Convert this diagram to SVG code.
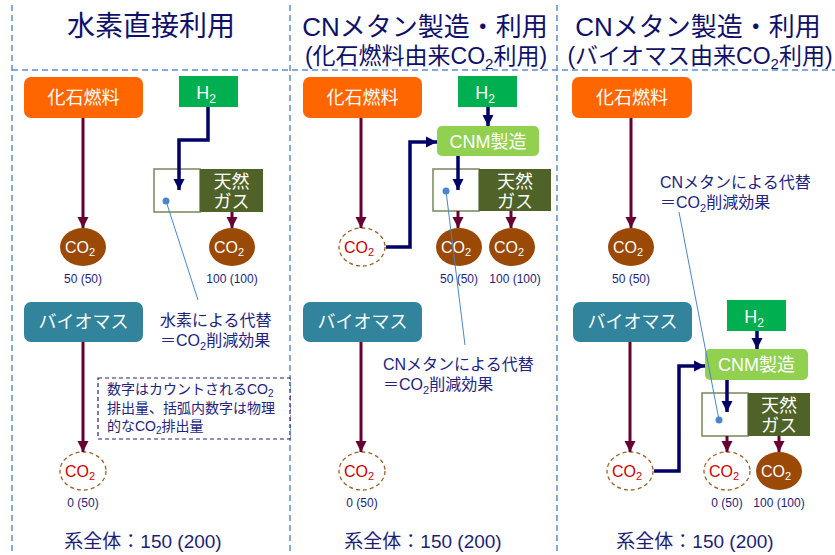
<svg xmlns="http://www.w3.org/2000/svg" width="835" height="555" viewBox="0 0 835 555">
<defs>
<style>
text{font-family:"Liberation Sans","Noto Sans CJK JP",sans-serif}
.title{fill:#10106a;font-size:26px;text-anchor:middle}
.title2{fill:#10106a;font-size:23px;text-anchor:middle}
.bt{fill:#fff;font-size:18px;text-anchor:middle}
.co{fill:#fff;font-size:16px;text-anchor:middle}
.cor{fill:#d00000;font-size:16px;text-anchor:middle}
.val{fill:#1e1e78;font-size:12px;text-anchor:middle}
.lab{fill:#23237e;font-size:16px}
.note{fill:#23237e;font-size:14px}
.tot{fill:#1e1e78;font-size:19px;text-anchor:middle}
.sep{stroke:#5e8fcc;stroke-width:1.5;stroke-dasharray:6 4;fill:none}
.fossil{fill:#ff6600}
.bio{fill:#31849b}
.h2{fill:#00b050}
.cnm{fill:#92d050}
.ng{fill:#4f6228}
.slot{fill:#fff;stroke:#77865a;stroke-width:1.5}
.co2{fill:#9a4906}
.co2d{fill:#fff;stroke:#a0622a;stroke-width:1.3;stroke-dasharray:4 3}
.mar{stroke:#660033;stroke-width:3;fill:none;marker-end:url(#am)}
.nav{stroke:#000066;stroke-width:3.5;fill:none;marker-end:url(#an)}
.call{stroke:#4a86c8;stroke-width:1;fill:none}
.dot{fill:#4a86c8}
.nb{fill:#fff;stroke:#23237e;stroke-width:1.2;stroke-dasharray:4 3}
</style>
<marker id="am" markerUnits="userSpaceOnUse" markerWidth="12" markerHeight="12" viewBox="0 0 12 12" refX="11" refY="6" orient="auto"><path d="M0,0.5 L11,6 L0,11.5 Z" fill="#660033"/></marker>
<marker id="an" markerUnits="userSpaceOnUse" markerWidth="12" markerHeight="12" viewBox="0 0 12 12" refX="11" refY="6" orient="auto"><path d="M0,0.5 L11,6 L0,11.5 Z" fill="#000066"/></marker>
</defs>
<rect width="835" height="555" fill="#fff"/>

<g id="separators">
<path class="sep" d="M12,5 V555 M290,5 V555 M557,5 V555 M12,70 H835"/>
</g>

<g id="titles">
<text class="title" x="151" y="36" style="font-size:28px">水素直接利用</text>
<text class="title" x="425" y="36">CNメタン製造・利用</text>
<text class="title2" x="426" y="64">(化石燃料由来CO<tspan font-size="15" dy="5">2</tspan><tspan dy="-5">利用)</tspan></text>
<text class="title" x="698" y="36">CNメタン製造・利用</text>
<text class="title2" x="700" y="64">(バイオマス由来CO<tspan font-size="15" dy="5">2</tspan><tspan dy="-5">利用)</tspan></text>
</g>

<!-- left panel nodes -->
<g id="L-fossil"><rect class="fossil" x="24" y="77" width="119" height="41" rx="7"/><text class="bt" x="83.5" y="104">化石燃料</text></g>
<g id="L-h2"><rect class="h2" x="179" y="76" width="59" height="31"/><text class="bt" x="206" y="99">H<tspan font-size="12" dy="4">2</tspan></text></g>
<g id="L-ng"><rect class="slot" x="154" y="169" width="46" height="43"/><rect class="ng" x="200" y="169" width="63" height="43"/><text class="bt" x="231.5" y="188">天然</text><text class="bt" x="231.5" y="208">ガス</text></g>
<g id="L-co2a"><ellipse class="co2" cx="83" cy="247" rx="23" ry="19"/><text class="co" x="80" y="253">CO<tspan font-size="11" dy="3">2</tspan></text><text class="val" x="83" y="283">50 (50)</text></g>
<g id="L-co2b"><ellipse class="co2" cx="232" cy="247" rx="23" ry="19"/><text class="co" x="229" y="253">CO<tspan font-size="11" dy="3">2</tspan></text><text class="val" x="232" y="283">100 (100)</text></g>
<g id="L-bio"><rect class="bio" x="24" y="302" width="119" height="40" rx="7"/><text class="bt" x="83.5" y="328">バイオマス</text></g>
<g id="L-co2c"><ellipse class="co2d" cx="83" cy="471" rx="23" ry="19"/><text class="cor" x="80" y="477">CO<tspan font-size="11" dy="3">2</tspan></text><text class="val" x="83" y="507">0 (50)</text></g>
<g id="L-callout"><path class="call" d="M166,201 L198,300"/><circle class="dot" cx="166" cy="201" r="3.5"/><text class="lab" x="160" y="326">水素による代替</text><text class="lab" x="160" y="346">＝CO<tspan font-size="11" dy="4">2</tspan><tspan dy="-4">削減効果</tspan></text></g>
<g id="L-note"><rect class="nb" x="98" y="378" width="192" height="61"/><text class="note" x="107" y="394">数字はカウントされるCO<tspan font-size="10" dy="3">2</tspan></text><text class="note" x="107" y="413">排出量、括弧内数字は物理</text><text class="note" x="107" y="431">的なCO<tspan font-size="10" dy="3">2</tspan><tspan dy="-3">排出量</tspan></text></g>
<g id="L-total"><text class="tot" x="143" y="548">系全体：150 (200)</text></g>

<!-- middle panel nodes -->
<g id="M-fossil"><rect class="fossil" x="303" y="77" width="119" height="41" rx="7"/><text class="bt" x="362.5" y="104">化石燃料</text></g>
<g id="M-h2"><rect class="h2" x="458" y="76" width="59" height="31"/><text class="bt" x="485" y="99">H<tspan font-size="12" dy="4">2</tspan></text></g>
<g id="M-cnm"><rect class="cnm" x="437" y="126" width="102" height="30" rx="5"/><text class="bt" x="488" y="148">CNM製造</text></g>
<g id="M-ng"><rect class="slot" x="433" y="169" width="46" height="42"/><rect class="ng" x="479" y="169" width="72" height="42"/><text class="bt" x="515" y="188">天然</text><text class="bt" x="515" y="208">ガス</text></g>
<g id="M-co2src"><ellipse class="co2d" cx="362" cy="247" rx="23" ry="19"/><text class="cor" x="359" y="253">CO<tspan font-size="11" dy="3">2</tspan></text></g>
<g id="M-co2a"><ellipse class="co2" cx="459" cy="247" rx="23" ry="19"/><text class="co" x="456" y="253">CO<tspan font-size="11" dy="3">2</tspan></text><text class="val" x="459" y="283">50 (50)</text></g>
<g id="M-co2b"><ellipse class="co2" cx="512" cy="247" rx="23" ry="19"/><text class="co" x="509" y="253">CO<tspan font-size="11" dy="3">2</tspan></text><text class="val" x="515" y="283">100 (100)</text></g>
<g id="M-bio"><rect class="bio" x="303" y="302" width="119" height="40" rx="7"/><text class="bt" x="362.5" y="328">バイオマス</text></g>
<g id="M-co2c"><ellipse class="co2d" cx="362" cy="471" rx="23" ry="19"/><text class="cor" x="359" y="477">CO<tspan font-size="11" dy="3">2</tspan></text><text class="val" x="362" y="507">0 (50)</text></g>
<g id="M-callout"><path class="call" d="M446,191 L465,345"/><circle class="dot" cx="446" cy="191" r="3.5"/><text class="lab" x="383" y="370">CNメタンによる代替</text><text class="lab" x="383" y="390">＝CO<tspan font-size="11" dy="4">2</tspan><tspan dy="-4">削減効果</tspan></text></g>
<g id="M-total"><text class="tot" x="423" y="548">系全体：150 (200)</text></g>

<!-- right panel nodes -->
<g id="R-fossil"><rect class="fossil" x="572" y="77" width="120" height="41" rx="7"/><text class="bt" x="632" y="104">化石燃料</text></g>
<g id="R-co2a"><ellipse class="co2" cx="631" cy="247" rx="23" ry="19"/><text class="co" x="628" y="253">CO<tspan font-size="11" dy="3">2</tspan></text><text class="val" x="631" y="283">50 (50)</text></g>
<g id="R-bio"><rect class="bio" x="573" y="302" width="119" height="40" rx="7"/><text class="bt" x="632.5" y="328">バイオマス</text></g>
<g id="R-h2"><rect class="h2" x="727" y="300" width="59" height="31"/><text class="bt" x="754" y="323">H<tspan font-size="12" dy="4">2</tspan></text></g>
<g id="R-cnm"><rect class="cnm" x="705" y="349" width="103" height="31" rx="5"/><text class="bt" x="756.5" y="371">CNM製造</text></g>
<g id="R-ng"><rect class="slot" x="702" y="393" width="46" height="43"/><rect class="ng" x="748" y="393" width="62" height="43"/><text class="bt" x="779" y="412">天然</text><text class="bt" x="779" y="432">ガス</text></g>
<g id="R-callout"><path class="call" d="M679,212 L719,420"/><circle class="dot" cx="719" cy="420" r="3.5"/><text class="lab" x="660" y="188">CNメタンによる代替</text><text class="lab" x="660" y="208">＝CO<tspan font-size="11" dy="4">2</tspan><tspan dy="-4">削減効果</tspan></text></g>
<g id="R-co2src"><ellipse class="co2d" cx="630" cy="471" rx="23" ry="19"/><text class="cor" x="627" y="477">CO<tspan font-size="11" dy="3">2</tspan></text></g>
<g id="R-co2b"><ellipse class="co2d" cx="727" cy="471" rx="23" ry="19"/><text class="cor" x="724" y="477">CO<tspan font-size="11" dy="3">2</tspan></text><text class="val" x="727" y="507">0 (50)</text></g>
<g id="R-co2c"><ellipse class="co2" cx="779" cy="471" rx="23" ry="19"/><text class="co" x="776" y="477">CO<tspan font-size="11" dy="3">2</tspan></text><text class="val" x="779" y="507">100 (100)</text></g>
<g id="R-total"><text class="tot" x="695" y="548">系全体：150 (200)</text></g>

<g id="connectors">
<!-- left -->
<path class="mar" d="M83,118 V228"/>
<path class="nav" d="M208,107 V140 H179 V190"/>
<path class="mar" d="M232,212 V228"/>
<path class="mar" d="M83,342 V452"/>
<!-- middle -->
<path class="mar" d="M361,118 V228"/>
<path class="nav" d="M488,107 V126"/>
<path class="nav" d="M386,247 H410 V142 H437"/>
<path class="nav" d="M458,156 V190"/>
<path class="mar" d="M458,211 V228"/>
<path class="mar" d="M511,211 V228"/>
<path class="mar" d="M361,342 V452"/>
<!-- right -->
<path class="mar" d="M631,118 V228"/>
<path class="nav" d="M757,331 V349"/>
<path class="mar" d="M630,342 V452"/>
<path class="nav" d="M654,471 H679 V366 H705"/>
<path class="nav" d="M727,380 V412"/>
<path class="mar" d="M727,436 V452"/>
<path class="mar" d="M779,436 V452"/>
</g>
</svg>
